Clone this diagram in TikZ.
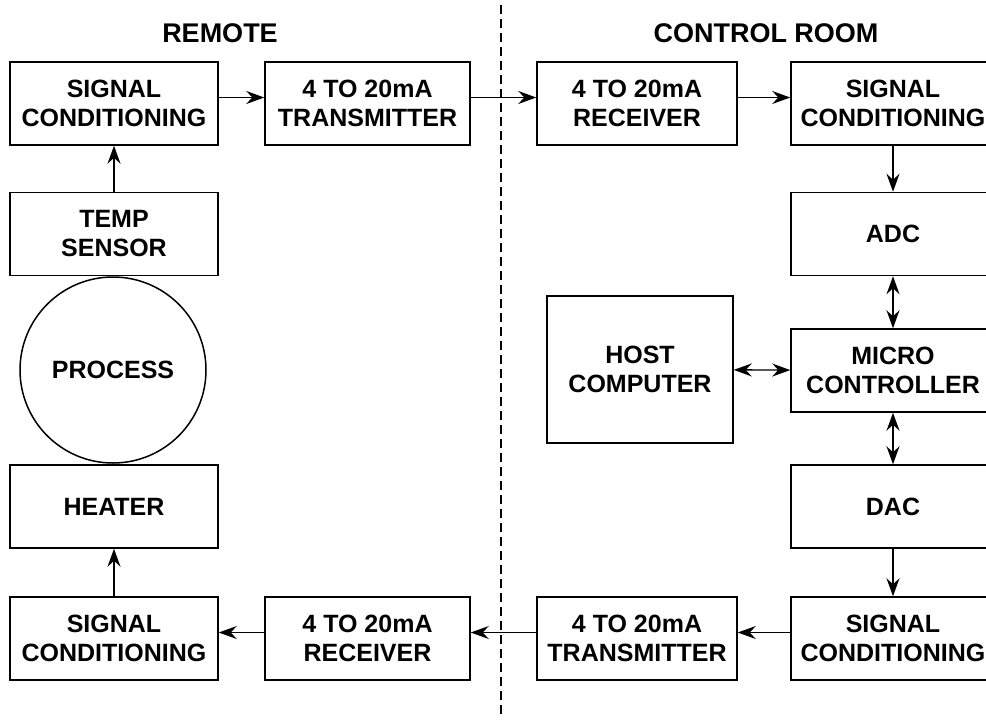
\documentclass[tikz,border=0pt]{standalone}
\usepackage{fontspec}
\setmainfont{Liberation Sans}
\usetikzlibrary{arrows.meta}
\tikzset{>={Stealth[length=18pt,width=13pt,inset=6pt]}}
\tikzset{blk/.style = {draw, line width=1.5pt, minimum height=83pt, align=center,
                       inner sep=0, font=\fontsize{25}{29}\selectfont\bfseries}}
\tikzset{hdr/.style = {font=\fontsize{27}{30}\selectfont\bfseries}}
\tikzset{conn/.style = {line width=1.4pt, ->}}
\tikzset{bi/.style = {line width=1.4pt, <->}}

\begin{document}
\begin{tikzpicture}[x=1pt, y=-1pt]
    \useasboundingbox (0, 0) rectangle (986, 721);

    \node [hdr] (remote) at (220, 33) {REMOTE};
    \node [hdr] (ctrl) at (766, 33) {CONTROL ROOM};
    \coordinate (top) at (501, 5);
    \coordinate (bot) at (501, 716);
    \draw [line width=2.2pt, dash pattern=on 9pt off 5pt] (top) -- (bot);

    % remote side
    \node [blk, minimum width=208pt] (sigl) at (114, 103.5) {SIGNAL\\CONDITIONING};
    \node [blk, minimum width=205pt] (xmt) at (367.5, 103.5) {4 TO 20mA\\TRANSMITTER};
    \node [blk, minimum width=208pt] (temp) at (114, 234) {TEMP\\SENSOR};
    \node [blk, circle, minimum size=186pt, minimum height=186pt] (proc) at (113, 370) {PROCESS};
    \node [blk, minimum width=208pt] (heat) at (114, 506.5) {HEATER};
    \node [blk, minimum width=208pt] (sigbl) at (114, 638.5) {SIGNAL\\CONDITIONING};
    \node [blk, minimum width=205pt] (rcvb) at (367.5, 638.5) {4 TO 20mA\\RECEIVER};

    % control room side
    \node [blk, minimum width=200pt] (rcv) at (637, 103.5) {4 TO 20mA\\RECEIVER};
    \node [blk, minimum width=204pt] (sigr) at (893, 103.5) {SIGNAL\\CONDITIONING};
    \node [blk, minimum width=204pt] (adc) at (893, 234) {ADC};
    \node [blk, minimum width=204pt] (mcu) at (893, 370.5) {MICRO\\CONTROLLER};
    \node [blk, minimum width=186pt, minimum height=147pt] (host) at (640, 369.5) {HOST\\COMPUTER};
    \node [blk, minimum width=204pt] (dac) at (893, 506.5) {DAC};
    \node [blk, minimum width=200pt] (xmtb) at (637, 638.5) {4 TO 20mA\\TRANSMITTER};
    \node [blk, minimum width=204pt] (sigbr) at (893, 638.5) {SIGNAL\\CONDITIONING};

    \draw [conn] ([yshift=6pt]sigl.east) -- ([yshift=6pt]xmt.west);
    \draw [conn] ([yshift=6pt]xmt.east) -- ([yshift=6pt]rcv.west);
    \draw [conn] ([yshift=6pt]rcv.east) -- ([yshift=6pt]sigr.west);
    \draw [conn] (sigr) -- (adc);
    \draw [bi] (adc) -- (mcu);
    \draw [bi] (mcu) -- (dac);
    \draw [bi] (host) -- (mcu);
    \draw [conn] (dac) -- (sigbr);
    \draw [conn] ([yshift=6pt]sigbr.west) -- ([yshift=6pt]xmtb.east);
    \draw [conn] ([yshift=6pt]xmtb.west) -- ([yshift=6pt]rcvb.east);
    \draw [conn] ([yshift=6pt]rcvb.west) -- ([yshift=6pt]sigbl.east);
    \draw [conn] (sigbl) -- (heat);
    \draw [conn] (temp) -- (sigl);
  \end{tikzpicture}
\end{document}
